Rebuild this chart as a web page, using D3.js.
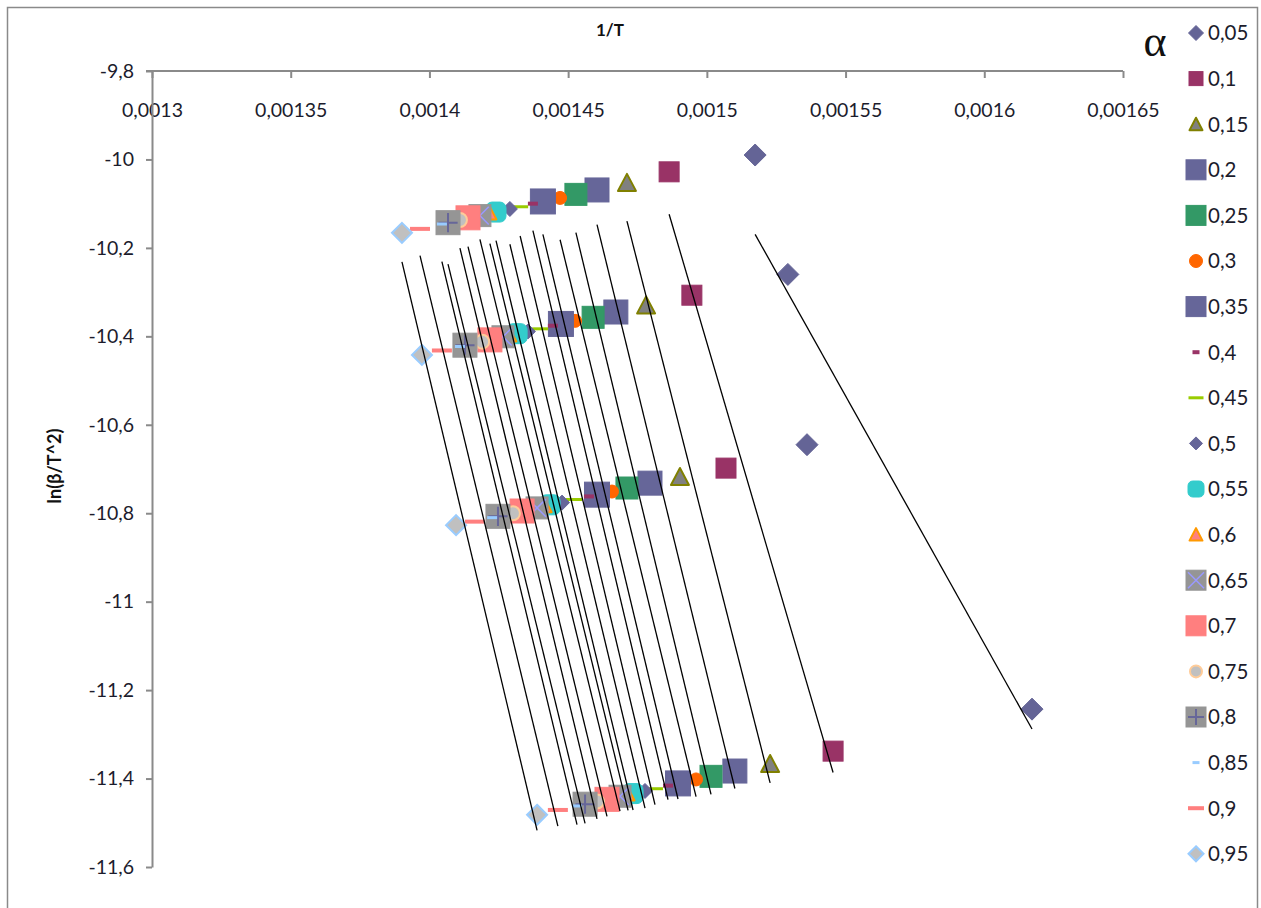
<!DOCTYPE html>
<html>
<head>
<meta charset="utf-8">
<script src="https://cdn.jsdelivr.net/npm/d3@7"></script>
<style>
  html, body { margin: 0; padding: 0; background: #fff; }
  svg { display: block; }
  text { font-family: Lato, "Open Sans", sans-serif; }
</style>
</head>
<body>
<svg id="chart" width="1261" height="908"></svg>
<script>
// ---- data ----
const alphaLabels = ["0,05","0,1","0,15","0,2","0,25","0,3","0,35","0,4","0,45","0,5",
                     "0,55","0,6","0,65","0,7","0,75","0,8","0,85","0,9","0,95"];

// heating rate ~20
const x20 = [0.0015174,0.0014864,0.0014712,0.0014604,0.0014528,0.0014471,0.0014409,0.0014373,0.0014327,0.0014290,
             0.0014240,0.0014218,0.0014182,0.0014139,0.0014110,0.0014067,0.0014045,0.0013966,0.0013901];
const y20 = [-9.990,-10.028,-10.053,-10.069,-10.079,-10.087,-10.095,-10.100,-10.107,-10.112,
             -10.119,-10.122,-10.127,-10.132,-10.137,-10.143,-10.146,-10.157,-10.166];
// heating rate ~15
const x15 = [0.0015292,0.0014946,0.0014781,0.0014672,0.0014590,0.0014525,0.0014474,0.0014445,0.0014399,0.0014355,
             0.0014316,0.0014290,0.0014265,0.0014218,0.0014190,0.0014128,0.0014110,0.0014045,0.0013973];
const y15 = [-10.260,-10.307,-10.330,-10.345,-10.357,-10.365,-10.372,-10.376,-10.383,-10.389,
             -10.394,-10.398,-10.401,-10.408,-10.412,-10.420,-10.423,-10.432,-10.442];
// heating rate ~10
const x10 = [0.0015361,0.0015069,0.0014903,0.0014795,0.0014712,0.0014658,0.0014604,0.0014575,0.0014521,0.0014478,
             0.0014435,0.0014417,0.0014388,0.0014334,0.0014301,0.0014247,0.0014226,0.0014164,0.0014096];
const y10 = [-10.645,-10.698,-10.718,-10.732,-10.743,-10.751,-10.758,-10.762,-10.769,-10.776,
             -10.781,-10.784,-10.788,-10.795,-10.800,-10.807,-10.810,-10.819,-10.827];
// heating rate ~5
const x5 = [0.0016172,0.0015455,0.0015228,0.0015101,0.0015015,0.0014961,0.0014896,0.0014860,0.0014813,0.0014777,
            0.0014734,0.0014716,0.0014687,0.0014640,0.0014604,0.0014561,0.0014532,0.0014463,0.0014388];
const y5 = [-11.243,-11.338,-11.367,-11.383,-11.395,-11.402,-11.411,-11.416,-11.423,-11.428,
            -11.434,-11.436,-11.440,-11.447,-11.452,-11.458,-11.462,-11.471,-11.482];

const xTicks = [0.0013,0.00135,0.0014,0.00145,0.0015,0.00155,0.0016,0.00165];
const yTicks = [-9.8,-10,-10.2,-10.4,-10.6,-10.8,-11,-11.2,-11.4,-11.6];

// ---- marker styles (per series, same order as alphaLabels) ----
const styles = [
  {t:"diamond", s:22, ls:15, fill:"#646496", stroke:"#646496"},
  {t:"square", s:20, ls:14, fill:"#993366", stroke:"#993366"},
  {t:"triangle", s:20, ls:15, fill:"#808080", stroke:"#808000", sw:2},
  {t:"square", s:24, ls:20, fill:"#666699", stroke:"#666699"},
  {t:"square", s:22, ls:20, fill:"#339966", stroke:"#339966"},
  {t:"circle", s:13, ls:13, fill:"#FF6600", stroke:"#FF6600"},
  {t:"square", s:25, ls:20, fill:"#666699", stroke:"#666699"},
  {t:"dash", s:10, ls:7, h:4, fill:"#993366"},
  {t:"dash", s:16, ls:15, h:3, fill:"#99CC00"},
  {t:"diamond", s:15, ls:13, fill:"#666699", stroke:"#666699"},
  {t:"roundsq", s:20, ls:16, fill:"#33CCCC", stroke:"#33CCCC"},
  {t:"triangle", s:15, ls:15, fill:"#FF7F7F", stroke:"#FF9900", sw:2},
  {t:"xsquare", s:22, ls:20, fill:"#959595", stroke:"#959595", mark:"#9999FF"},
  {t:"square", s:24, ls:20, fill:"#FF7F7F", stroke:"#FF7F7F"},
  {t:"circle", s:16, ls:14, fill:"#C0C0C0", stroke:"#FFCC99", sw:2},
  {t:"plussquare", s:24, ls:20, fill:"#959595", stroke:"#959595", mark:"#666699"},
  {t:"dash", s:10, ls:7, h:3, fill:"#99CCFF"},
  {t:"dash", s:20, ls:16, h:4, fill:"#FF7F7F"},
  {t:"diamond", s:20, ls:15, fill:"#C0C0C0", stroke:"#99CCFF", sw:2}
];

const svg = d3.select("#chart");

// outer border
svg.append("rect").attr("x",7.5).attr("y",7.5).attr("width",1250).attr("height",910)
  .attr("fill","#fff").attr("stroke","#8a8a8a").attr("stroke-width",1.5);

const x = d3.scaleLinear().domain([0.0013,0.00165]).range([152,1123]);
const y = d3.scaleLinear().domain([-9.8,-11.6]).range([71,867]);

const comma = v => String(v).replace(".", ",");

// x axis (top, crossing at -9.8)
const gx = svg.append("g").attr("transform",`translate(0,${y(-9.8)})`)
  .call(d3.axisBottom(x).tickValues(xTicks).tickSize(7).tickSizeOuter(0).tickPadding(25)
        .tickFormat(d => comma(+d.toFixed(5))));
// y axis
const gy = svg.append("g").attr("transform",`translate(${x(0.0013)},0)`)
  .call(d3.axisLeft(y).tickValues(yTicks).tickSize(6).tickSizeOuter(0).tickPadding(12)
        .tickFormat(d => comma(+d.toFixed(1))));
[gx, gy].forEach(g => {
  g.selectAll("path.domain").attr("stroke","#8a8a8a").attr("stroke-width",2);
  g.selectAll(".tick line").attr("stroke","#8a8a8a").attr("stroke-width",2);
  g.selectAll(".tick text").attr("fill","#1c1c2c").style("font-size","19.5px");
});
// extend x axis line slightly left (as in Excel, the -9.8 tick)
gx.select("path.domain").attr("d", `M${x(0.0013)-6},0H${x(0.00165)}`);

// titles
svg.append("text").attr("x",610).attr("y",36).attr("text-anchor","middle")
  .style("font-size","17px").style("font-weight","bold").attr("fill","#111").text("1/T");
svg.append("text").attr("transform","translate(61,466) rotate(-90)").attr("text-anchor","middle")
  .style("font-size","18px").style("font-weight","bold").attr("fill","#111").text("ln(β/T^2)");
svg.append("text").attr("x",1155).attr("y",56).attr("text-anchor","middle")
  .style("font-family","'Liberation Serif', 'DejaVu Serif', serif").style("font-size","44px")
  .attr("fill","#111").text("α");

// marker drawing
function drawMarker(g, st, size) {
  const h = size/2;
  if (st.t === "diamond") {
    g.append("path").attr("d",`M0,${-h}L${h},0L0,${h}L${-h},0Z`)
      .attr("fill",st.fill).attr("stroke",st.stroke).attr("stroke-width",st.sw||1);
  } else if (st.t === "square" || st.t === "xsquare" || st.t === "plussquare" || st.t === "roundsq") {
    g.append("rect").attr("x",-h).attr("y",-h).attr("width",size).attr("height",size)
      .attr("rx", st.t === "roundsq" ? size*0.3 : 0)
      .attr("fill",st.fill).attr("stroke",st.stroke).attr("stroke-width",1);
    if (st.t === "xsquare") {
      const k = h*0.8;
      g.append("path").attr("d",`M${-k},${-k}L${k},${k}M${-k},${k}L${k},${-k}`)
        .attr("stroke",st.mark).attr("stroke-width",1.5).attr("fill","none");
    }
    if (st.t === "plussquare") {
      const k = h*0.8;
      g.append("path").attr("d",`M${-k},0L${k},0M0,${-k}L0,${k}`)
        .attr("stroke",st.mark).attr("stroke-width",2).attr("fill","none");
    }
  } else if (st.t === "triangle") {
    const sw = st.sw||1;
    g.append("path").attr("d",`M0,${-h+sw/2}L${h-sw/2},${h*0.8}L${-h+sw/2},${h*0.8}Z`)
      .attr("fill",st.fill).attr("stroke",st.stroke).attr("stroke-width",sw).attr("stroke-linejoin","round");
  } else if (st.t === "circle") {
    g.append("circle").attr("r",h - (st.sw||0)/2)
      .attr("fill",st.fill).attr("stroke",st.stroke).attr("stroke-width",st.sw||1);
  } else if (st.t === "dash") {
    g.append("rect").attr("x",-h).attr("y",-(st.h||3)/2).attr("width",size).attr("height",st.h||3)
      .attr("fill",st.fill);
  }
}

// build series
const levelsX = [x20, x15, x10, x5];
const levelsY = [y20, y15, y10, y5];
const series = alphaLabels.map((lab, i) => ({
  label: lab,
  style: styles[i],
  pts: levelsX.map((xs, k) => ({x: xs[i], y: levelsY[k][i]}))
}));

const plot = svg.append("g");
series.forEach(s => {
  s.pts.forEach(p => {
    const g = plot.append("g").attr("transform",`translate(${x(p.x)},${y(p.y)})`);
    drawMarker(g, s.style, s.style.s);
  });
});

// linear trendlines (least squares), drawn over the x-range of each series
const trend = svg.append("g");
series.forEach(s => {
  const mx = d3.mean(s.pts, p => p.x), my = d3.mean(s.pts, p => p.y);
  const sxy = d3.sum(s.pts, p => (p.x-mx)*(p.y-my));
  const sxx = d3.sum(s.pts, p => (p.x-mx)*(p.x-mx));
  const b = sxy/sxx, a = my - b*mx;
  const [x0, x1] = d3.extent(s.pts, p => p.x);
  trend.append("line")
    .attr("x1", x(x0)).attr("y1", y(a + b*x0))
    .attr("x2", x(x1)).attr("y2", y(a + b*x1))
    .attr("stroke","#000").attr("stroke-width",1.3);
});

// legend
const legend = svg.append("g");
series.forEach((s, i) => {
  const cy = 33 + i*45.6;
  const g = legend.append("g").attr("transform",`translate(1196,${cy})`);
  drawMarker(g, s.style, s.style.ls);
  legend.append("text").attr("x",1208).attr("y",cy).attr("dy","0.36em")
    .style("font-size","20.5px").attr("fill","#1c1c2c").text(s.label);
});
</script>
</body>
</html>
